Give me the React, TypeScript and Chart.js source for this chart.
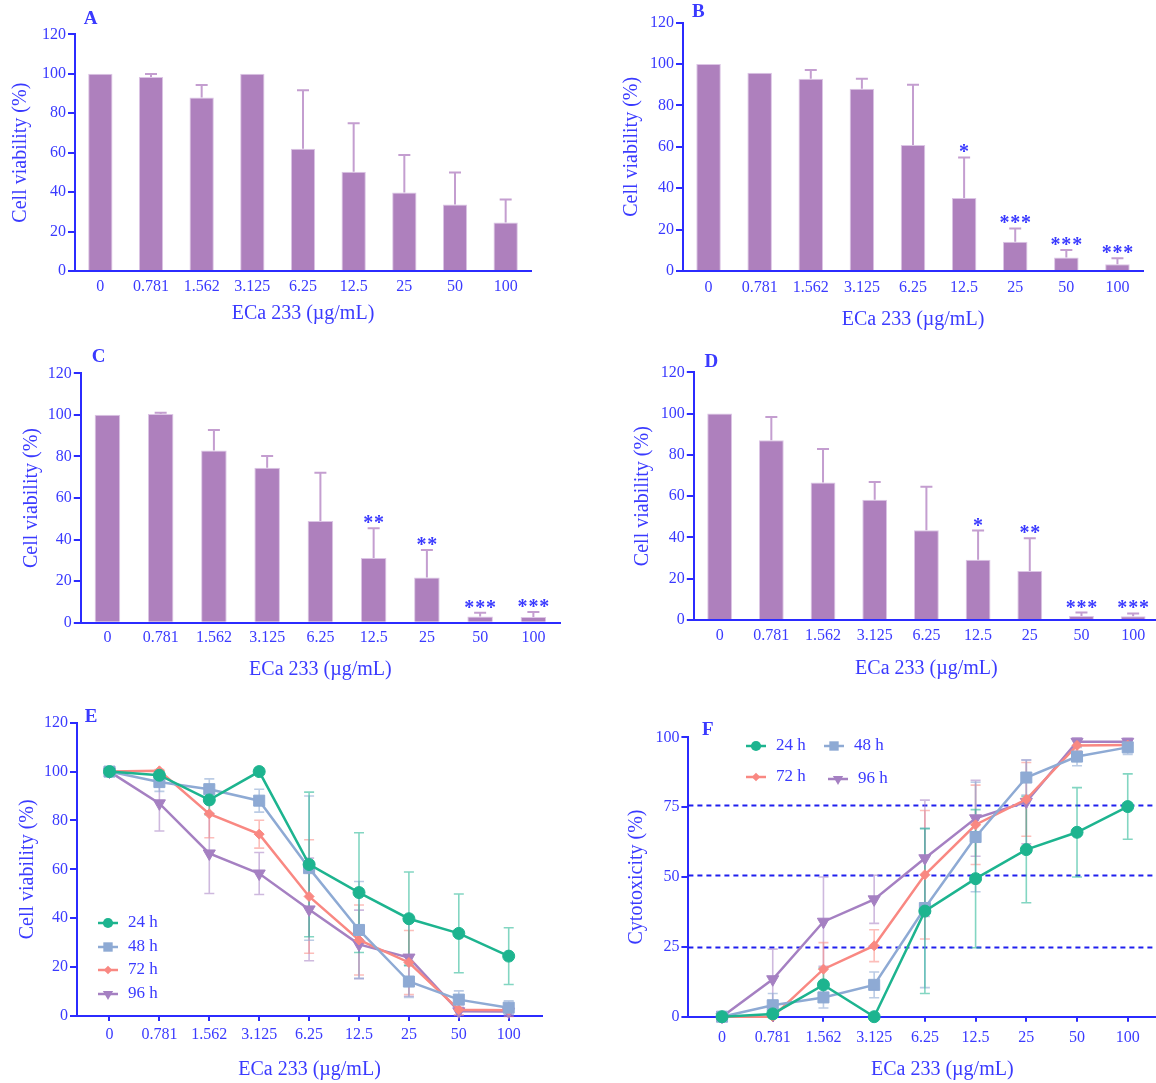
import React, { useEffect, useRef } from 'react';
import { Chart, registerables } from 'chart.js';

Chart.register(...registerables);

// ---------------- DATA ----------------
const doseLabels = ['0', '0.781', '1.562', '3.125', '6.25', '12.5', '25', '50', '100'];
const viabilityTicks = [0, 20, 40, 60, 80, 100, 120];
const cytoTicks = [0, 25, 50, 75, 100];
const thresholdLines = [75.6, 50.5, 24.8];
const seriesLabels = ['24 h', '48 h', '72 h', '96 h'];

// Panel A (24 h)
const panelAValues = [100, 98.3, 88.0, 100, 62.0, 50.3, 39.8, 33.7, 24.6];
const panelAErrors = [0, 1.6, 6.3, 0, 29.6, 24.6, 19.0, 16.2, 11.6];
const panelAStars = ['', '', '', '', '', '', '', '', ''];

// Panel B (48 h)
const panelBValues = [100, 95.8, 92.9, 88.1, 60.9, 35.3, 14.1, 6.5, 3.3];
const panelBErrors = [0, 0, 4.2, 4.8, 29.1, 19.6, 6.5, 3.6, 2.9];
const panelBStars = ['', '', '', '', '', '*', '***', '***', '***'];

// Panel C (72 h)
const panelCValues = [100, 100.4, 82.9, 74.6, 48.9, 31.1, 21.8, 3.0, 2.8];
const panelCErrors = [0, 0.6, 9.8, 5.6, 23.3, 14.3, 13.2, 1.8, 2.4];
const panelCStars = ['', '', '', '', '', '**', '**', '***', '***'];

// Panel D (96 h)
const panelDValues = [100, 87.1, 66.6, 58.2, 43.5, 29.2, 23.7, 1.9, 1.8];
const panelDErrors = [0, 11.3, 16.3, 8.7, 21.1, 14.1, 15.9, 1.7, 1.4];
const panelDStars = ['', '', '', '', '', '*', '**', '***', '***'];

// Panel E (viability lines)
const viab24 = [100, 98.5, 88.4, 100, 62.0, 50.5, 39.8, 33.8, 24.5];
const viab24Err = [0, 1.5, 6.0, 0, 29.6, 24.5, 19.1, 16.1, 11.6];
const viab48 = [100, 95.7, 92.8, 88.1, 60.5, 35.2, 14.1, 6.7, 3.4];
const viab48Err = [0, 3.8, 4.2, 4.7, 29.5, 19.8, 6.5, 3.6, 2.8];
const viab72 = [100, 100.3, 82.7, 74.4, 48.9, 31.1, 21.9, 2.6, 2.4];
const viab72Err = [0, 0.5, 9.8, 5.7, 23.2, 14.3, 13.1, 2.1, 2.6];
const viab96 = [100, 87.0, 66.5, 58.3, 43.6, 29.3, 23.9, 1.9, 1.8];
const viab96Err = [0, 11.3, 16.4, 8.6, 21.0, 14.0, 15.8, 1.7, 1.4];

// Panel F (cytotoxicity lines)
const cyto24 = [0, 1.0, 11.4, 0, 37.8, 49.4, 59.8, 66.0, 75.2];
const cyto24Err = [0, 1.0, 6.0, 0, 29.5, 24.7, 19.0, 16.0, 11.7];
const cyto48 = [0, 4.1, 6.9, 11.4, 38.9, 64.3, 85.6, 93.1, 96.4];
const cyto48Err = [0, 4.2, 3.8, 4.6, 28.5, 19.6, 6.3, 3.3, 2.5];
const cyto72 = [0, 0, 17.0, 25.4, 50.8, 68.7, 77.8, 97.1, 97.2];
const cyto72Err = [0, 0.4, 9.5, 5.7, 23.0, 14.2, 13.2, 2.0, 1.6];
const cyto96 = [0, 13.4, 34.0, 42.0, 56.7, 71.0, 76.9, 98.4, 98.4];
const cyto96Err = [0, 10.8, 16.0, 8.6, 20.8, 13.6, 15.0, 1.4, 1.2];

// ---------------- STYLE ----------------
const FONT = "'Liberation Serif', 'Times New Roman', Times, serif";
const TEXT_BLUE = '#3a3aff';
const AXIS_BLUE = '#2b2bff';
const BAR_FILL = '#ae80bd';
const BAR_EDGE = '#dcc5e5';
const BAR_ERR = '#c49ed0';
const SERIES_COLORS = ['#1db48f', '#8eaad4', '#f98882', '#a580c2'];
const SERIES_ERR_COLORS = ['rgba(29,180,143,0.55)', 'rgba(142,170,212,0.6)', 'rgba(249,136,130,0.55)', 'rgba(165,128,194,0.55)'];
const SERIES_POINT = ['circle', 'rect', 'rectRot', 'triangle'];
const SERIES_RADIUS = [6, 7.8, 5, 7];
const SERIES_ROT = [0, 0, 0, 180];
const TITLE_SIZE = 20;
const TITLE_LH = TITLE_SIZE * 1.2;
const TICK_SIZE = 16;
const STAR_GAP = 10.8;

type Geo = {
  cx: number; cy: number; cw: number; ch: number;
  l: number; t: number; r: number; b: number;
  yTitleX: number; xTitleY: number;
  letter: string; letterX: number; letterY: number;
  xTickPad: number; xMin?: number; xMax?: number;
};

const GEO_A: Geo = { cx: 0, cy: 0, cw: 578, ch: 335, l: 75, t: 34.3, r: 531, b: 271, yTitleX: 20.4, xTitleY: 313.3, letter: 'A', letterX: 90.7, letterY: 18.8, xTickPad: 6.5 };
const GEO_B: Geo = { cx: 578, cy: 0, cw: 578, ch: 335, l: 683, t: 22.7, r: 1143, b: 271, yTitleX: 631.4, xTitleY: 319.3, letter: 'B', letterX: 698.3, letterY: 11.7, xTickPad: 7 };
const GEO_C: Geo = { cx: 0, cy: 340, cw: 578, ch: 350, l: 80.8, t: 373.3, r: 560, b: 622.7, yTitleX: 32, xTitleY: 670, letter: 'C', letterX: 98.5, letterY: 357.5, xTickPad: 5.8 };
const GEO_D: Geo = { cx: 578, cy: 340, cw: 587, ch: 350, l: 693.8, t: 372.3, r: 1159, b: 620, yTitleX: 643, xTitleY: 668.3, letter: 'D', letterX: 711.3, letterY: 361.7, xTickPad: 5.8 };
const GEO_E: Geo = { cx: 0, cy: 695, cw: 578, ch: 388, l: 77, t: 722.7, r: 542, b: 1016, yTitleX: 28, xTitleY: 1070, letter: 'E', letterX: 91, letterY: 716.8, xTickPad: 4.4, xMin: -0.651, xMax: 8.667 };
const GEO_F: Geo = { cx: 578, cy: 695, cw: 627, ch: 388, l: 688.4, t: 737.3, r: 1199, b: 1016.7, yTitleX: 636.6, xTitleY: 1070, letter: 'F', letterX: 707.7, letterY: 730.5, xTickPad: 6, xMin: -0.663, xMax: 9.35 };

const LEGEND_E = [{ x: 108, y: 923 }, { x: 108, y: 947 }, { x: 108, y: 970 }, { x: 108, y: 994 }];
const LEGEND_F = [{ x: 756, y: 746 }, { x: 834, y: 746 }, { x: 756, y: 777 }, { x: 838, y: 779 }];

function layoutOf(g: Geo) {
  const yBoxLeft = g.yTitleX - TITLE_LH / 2;
  const xBoxBottom = g.xTitleY + TITLE_LH / 2;
  return {
    padding: { left: yBoxLeft - g.cx, top: g.t - g.cy, right: g.cx + g.cw - g.r, bottom: g.cy + g.ch - xBoxBottom },
    yWidth: g.l - yBoxLeft,
    xHeight: xBoxBottom - g.b,
  };
}

function drawMarker(ctx: CanvasRenderingContext2D, style: string, x: number, y: number, r: number, rot: number, color: string) {
  ctx.save();
  ctx.fillStyle = color;
  ctx.beginPath();
  if (style === 'circle') {
    ctx.arc(x, y, r, 0, Math.PI * 2);
  } else if (style === 'rect') {
    const s = Math.SQRT1_2 * r;
    ctx.rect(x - s, y - s, 2 * s, 2 * s);
  } else if (style === 'rectRot') {
    ctx.moveTo(x, y - r); ctx.lineTo(x + r, y); ctx.lineTo(x, y + r); ctx.lineTo(x - r, y);
  } else {
    let a = (rot * Math.PI) / 180;
    ctx.moveTo(x + Math.sin(a) * r, y - Math.cos(a) * r);
    a += (2 * Math.PI) / 3;
    ctx.lineTo(x + Math.sin(a) * r, y - Math.cos(a) * r);
    a += (2 * Math.PI) / 3;
    ctx.lineTo(x + Math.sin(a) * r, y - Math.cos(a) * r);
  }
  ctx.closePath();
  ctx.fill();
  ctx.restore();
}

function letterPlugin(g: Geo) {
  return {
    id: 'panelLetter' + g.letter,
    afterDraw(chart: any) {
      const ctx = chart.ctx;
      ctx.save();
      ctx.fillStyle = TEXT_BLUE;
      ctx.font = `bold 19px ${FONT}`;
      ctx.textAlign = 'center';
      ctx.textBaseline = 'middle';
      ctx.fillText(g.letter, g.letterX - g.cx, g.letterY - g.cy);
      ctx.restore();
    },
  };
}

function barErrorPlugin(values: number[], errors: number[], stars: string[]) {
  return {
    id: 'barErrors',
    afterDatasetsDraw(chart: any) {
      const ctx = chart.ctx;
      const ys = chart.scales.y;
      const meta = chart.getDatasetMeta(0);
      ctx.save();
      meta.data.forEach((bar: any, i: number) => {
        const e = errors[i];
        const top = ys.getPixelForValue(values[i] + e);
        if (e > 0) {
          ctx.strokeStyle = BAR_ERR;
          ctx.lineWidth = 2;
          ctx.beginPath();
          ctx.moveTo(bar.x, bar.y);
          ctx.lineTo(bar.x, top);
          ctx.moveTo(bar.x - 6, top);
          ctx.lineTo(bar.x + 6, top);
          ctx.stroke();
        }
        const s = stars[i];
        if (s) {
          ctx.fillStyle = TEXT_BLUE;
          ctx.font = `bold 20px ${FONT}`;
          ctx.textAlign = 'center';
          ctx.textBaseline = 'alphabetic';
          const n = s.length;
          for (let k = 0; k < n; k++) {
            const sx = bar.x + (k - (n - 1) / 2) * STAR_GAP;
            ctx.fillText('*', sx, top + 1);
          }
        }
      });
      ctx.restore();
    },
  };
}

function lineExtrasPlugin(errs: number[][], vals: number[][], refLines: number[], legendPos: { x: number; y: number }[], g: Geo) {
  return {
    id: 'lineExtras',
    beforeDatasetsDraw(chart: any) {
      const ctx = chart.ctx;
      const xs = chart.scales.x;
      const ys = chart.scales.y;
      const area = chart.chartArea;
      ctx.save();
      refLines.forEach((v) => {
        const y = ys.getPixelForValue(v);
        ctx.strokeStyle = '#2020ee';
        ctx.lineWidth = 2;
        ctx.setLineDash([5, 4]);
        ctx.beginPath();
        ctx.moveTo(area.left, y);
        ctx.lineTo(area.right, y);
        ctx.stroke();
      });
      ctx.setLineDash([]);
      for (let j = vals.length - 1; j >= 0; j--) {
        ctx.strokeStyle = SERIES_ERR_COLORS[j];
        ctx.lineWidth = 1.6;
        vals[j].forEach((v, i) => {
          const e = errs[j][i];
          if (!(e > 0)) return;
          const x = xs.getPixelForValue(i);
          const yHi = ys.getPixelForValue(v + e);
          const yLo = ys.getPixelForValue(v - e);
          ctx.beginPath();
          ctx.moveTo(x, yHi); ctx.lineTo(x, yLo);
          ctx.moveTo(x - 5, yHi); ctx.lineTo(x + 5, yHi);
          ctx.moveTo(x - 5, yLo); ctx.lineTo(x + 5, yLo);
          ctx.stroke();
        });
      }
      ctx.restore();
    },
    afterDraw(chart: any) {
      const ctx = chart.ctx;
      ctx.save();
      legendPos.forEach((p, j) => {
        const x = p.x - g.cx;
        const y = p.y - g.cy;
        ctx.strokeStyle = SERIES_COLORS[j];
        ctx.lineWidth = 2.5;
        ctx.beginPath();
        ctx.moveTo(x - 10, y);
        ctx.lineTo(x + 10, y);
        ctx.stroke();
        drawMarker(ctx, SERIES_POINT[j], x, y, SERIES_RADIUS[j] * 0.85, SERIES_ROT[j], SERIES_COLORS[j]);
        ctx.fillStyle = TEXT_BLUE;
        ctx.font = `17px ${FONT}`;
        ctx.textAlign = 'left';
        ctx.textBaseline = 'middle';
        ctx.fillText(seriesLabels[j], x + 20, y);
      });
      ctx.restore();
    },
  };
}

function yAxis(g: Geo, lay: any, title: string, ticks: number[]) {
  return {
    position: 'left',
    min: ticks[0],
    max: ticks[ticks.length - 1],
    afterBuildTicks: (s: any) => { s.ticks = ticks.map((v) => ({ value: v })); },
    afterFit: (s: any) => { s.width = lay.yWidth; },
    ticks: { color: TEXT_BLUE, font: { family: FONT, size: TICK_SIZE }, padding: 2 },
    grid: { drawOnChartArea: false, drawTicks: true, tickLength: 7, color: AXIS_BLUE, lineWidth: 2 },
    border: { display: true, color: AXIS_BLUE, width: 2 },
    title: { display: true, text: title, color: TEXT_BLUE, font: { family: FONT, size: TITLE_SIZE, lineHeight: 1.2 }, padding: 0 },
  };
}

function xTitle() {
  return { display: true, text: 'ECa 233 (µg/mL)', color: TEXT_BLUE, font: { family: FONT, size: TITLE_SIZE, lineHeight: 1.2 }, padding: 0 };
}

function barConfig(g: Geo, values: number[], errors: number[], stars: string[]): any {
  const lay = layoutOf(g);
  return {
    type: 'bar',
    data: {
      labels: doseLabels,
      datasets: [{
        data: values,
        backgroundColor: BAR_FILL,
        borderColor: BAR_EDGE,
        borderWidth: 1,
        barPercentage: 0.48,
        categoryPercentage: 1,
      }],
    },
    options: {
      responsive: false,
      animation: false,
      events: [],
      devicePixelRatio: 1,
      layout: { padding: lay.padding },
      plugins: { legend: { display: false }, tooltip: { enabled: false } },
      scales: {
        x: {
          type: 'category',
          offset: true,
          afterFit: (s: any) => { s.height = lay.xHeight; },
          ticks: { color: TEXT_BLUE, font: { family: FONT, size: TICK_SIZE }, padding: g.xTickPad, maxRotation: 0, autoSkip: false },
          grid: { display: false, drawTicks: false },
          border: { display: true, color: AXIS_BLUE, width: 2 },
          title: xTitle(),
        },
        y: yAxis(g, lay, 'Cell viability (%)', viabilityTicks),
      },
    },
    plugins: [barErrorPlugin(values, errors, stars), letterPlugin(g)],
  };
}

function lineConfig(g: Geo, vals: number[][], errs: number[][], yTitle: string, ticks: number[], refLines: number[], legendPos: { x: number; y: number }[]): any {
  const lay = layoutOf(g);
  return {
    type: 'line',
    data: {
      datasets: vals.map((series, j) => ({
        label: seriesLabels[j],
        data: series.map((v, i) => ({ x: i, y: v })),
        borderColor: SERIES_COLORS[j],
        backgroundColor: SERIES_COLORS[j],
        pointBackgroundColor: SERIES_COLORS[j],
        pointBorderColor: SERIES_COLORS[j],
        pointBorderWidth: 1,
        pointStyle: SERIES_POINT[j],
        pointRadius: SERIES_RADIUS[j],
        pointRotation: SERIES_ROT[j],
        borderWidth: 2.5,
        tension: 0,
        clip: false,
      })),
    },
    options: {
      responsive: false,
      animation: false,
      events: [],
      devicePixelRatio: 1,
      layout: { padding: lay.padding },
      plugins: { legend: { display: false }, tooltip: { enabled: false } },
      scales: {
        x: {
          type: 'linear',
          min: g.xMin,
          max: g.xMax,
          afterBuildTicks: (s: any) => { s.ticks = doseLabels.map((_, i) => ({ value: i })); },
          afterFit: (s: any) => { s.height = lay.xHeight; },
          ticks: {
            color: TEXT_BLUE,
            font: { family: FONT, size: TICK_SIZE },
            padding: g.xTickPad,
            maxRotation: 0,
            autoSkip: false,
            callback: (v: any) => doseLabels[Math.round(v)] ?? '',
          },
          grid: { drawOnChartArea: false, drawTicks: true, tickLength: 5, color: AXIS_BLUE, lineWidth: 2 },
          border: { display: true, color: AXIS_BLUE, width: 2 },
          title: xTitle(),
        },
        y: yAxis(g, lay, yTitle, ticks),
      },
    },
    plugins: [lineExtrasPlugin(errs, vals, refLines, legendPos, g), letterPlugin(g)],
  };
}

function ChartPanel({ geo, make }: { geo: Geo; make: () => any }) {
  const ref = useRef<HTMLCanvasElement>(null);
  useEffect(() => {
    if (!ref.current) return;
    const chart = new Chart(ref.current, make());
    return () => chart.destroy();
  }, []);
  return (
    <canvas
      ref={ref}
      width={geo.cw}
      height={geo.ch}
      style={{ position: 'absolute', left: geo.cx, top: geo.cy, width: geo.cw, height: geo.ch }}
    />
  );
}

export default function App() {
  return (
    <div style={{ position: 'fixed', left: 0, top: 0, width: 1156, height: 1083, overflow: 'hidden', background: '#ffffff' }}>
      <ChartPanel geo={GEO_A} make={() => barConfig(GEO_A, panelAValues, panelAErrors, panelAStars)} />
      <ChartPanel geo={GEO_B} make={() => barConfig(GEO_B, panelBValues, panelBErrors, panelBStars)} />
      <ChartPanel geo={GEO_C} make={() => barConfig(GEO_C, panelCValues, panelCErrors, panelCStars)} />
      <ChartPanel geo={GEO_D} make={() => barConfig(GEO_D, panelDValues, panelDErrors, panelDStars)} />
      <ChartPanel
        geo={GEO_E}
        make={() => lineConfig(GEO_E, [viab24, viab48, viab72, viab96], [viab24Err, viab48Err, viab72Err, viab96Err], 'Cell viability (%)', viabilityTicks, [], LEGEND_E)}
      />
      <ChartPanel
        geo={GEO_F}
        make={() => lineConfig(GEO_F, [cyto24, cyto48, cyto72, cyto96], [cyto24Err, cyto48Err, cyto72Err, cyto96Err], 'Cytotoxicity (%)', cytoTicks, thresholdLines, LEGEND_F)}
      />
    </div>
  );
}
